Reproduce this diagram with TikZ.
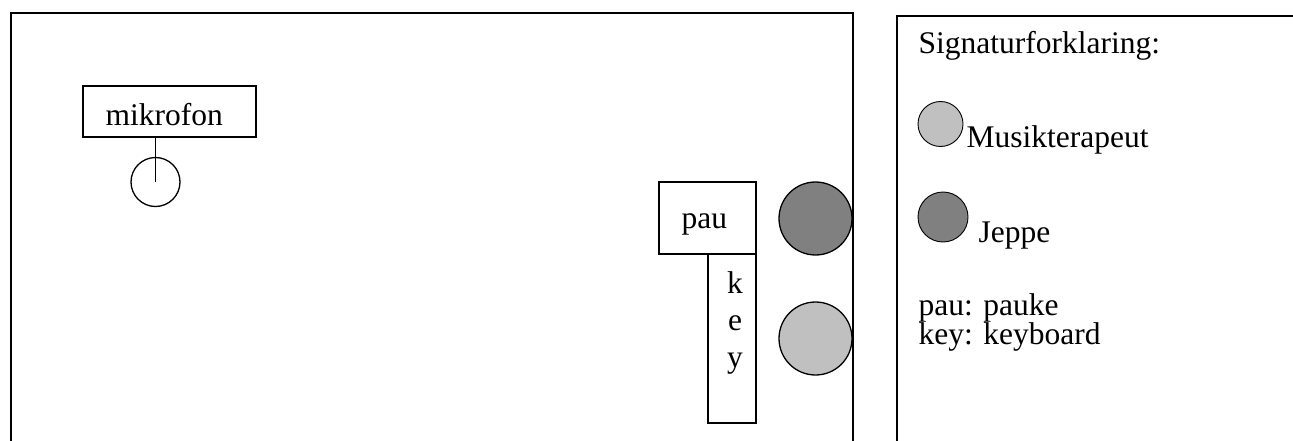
\documentclass[tikz,border=0pt]{standalone}
\usepackage{fontspec}
\setmainfont{Liberation Serif}
\definecolor{darkg}{HTML}{808080}
\definecolor{lightg}{HTML}{C0C0C0}
\begin{document}
\begin{tikzpicture}[x=1pt,y=-1pt,line width=1.3pt,
  outline/.style={line width=1.8pt},
  box/.style={draw,rectangle,inner sep=0,line width=1.3pt},
  dot/.style={draw,circle,inner sep=0,line width=1.3pt},
  txt/.style={inner sep=0,anchor=base west,font=\fontsize{31.5}{37}\selectfont}]
\useasboundingbox (0,0) rectangle (1293,441);
% room outline
\coordinate (r1) at (11,441);
\coordinate (r2) at (11,13);
\coordinate (r3) at (853,13);
\coordinate (r4) at (853,441);
\draw[outline] (r1) -- (r2) -- (r3) -- (r4);
% legend outline
\coordinate (l1) at (897,441);
\coordinate (l2) at (897,16);
\coordinate (l3) at (1293,16);
\draw[outline] (l1) -- (l2) -- (l3);
% microphone
\node[box,minimum width=173pt,minimum height=51pt] (mikbox) at (169.5,111.5) {};
\node[txt] (miktxt) at (105,126) {mikrofon};
\node[dot,minimum size=49pt] (mic) at (155.5,182) {};
\draw (mikbox.south -| mic) -- (mic.center);
% instruments
\node[box,minimum width=97pt,minimum height=72pt] (pau) at (707.5,218) {};
\node[txt] (pautxt) at (681,228) {pau};
\node[box,minimum width=48pt,minimum height=169pt] (key) at (732,338.5) {};
\node[txt,anchor=base] (k1) at (735,293) {k};
\node[txt,anchor=base] (k2) at (735,330) {e};
\node[txt,anchor=base] (k3) at (735,367) {y};
% persons
\node[dot,fill=darkg,minimum size=73pt] (jeppe) at (815.5,218.5) {};
\node[dot,fill=lightg,minimum size=73pt] (terap) at (815.5,338.5) {};
% legend
\node[txt] (sig) at (918,54) {Signaturforklaring:};
\node[dot,fill=lightg,line width=0.9pt,minimum size=45pt] (lterap) at (940.5,124) {};
\node[txt] (musik) at (966,147) {Musikterapeut};
\node[dot,fill=darkg,line width=0.9pt,minimum size=50pt] (ljeppe) at (943,217) {};
\node[txt] (jtxt) at (978,242) {Jeppe};
\node[txt] (pauk) at (918,315) {pau: pauke};
\node[txt] (keyb) at (918,344) {key: keyboard};
\end{tikzpicture}
\end{document}
